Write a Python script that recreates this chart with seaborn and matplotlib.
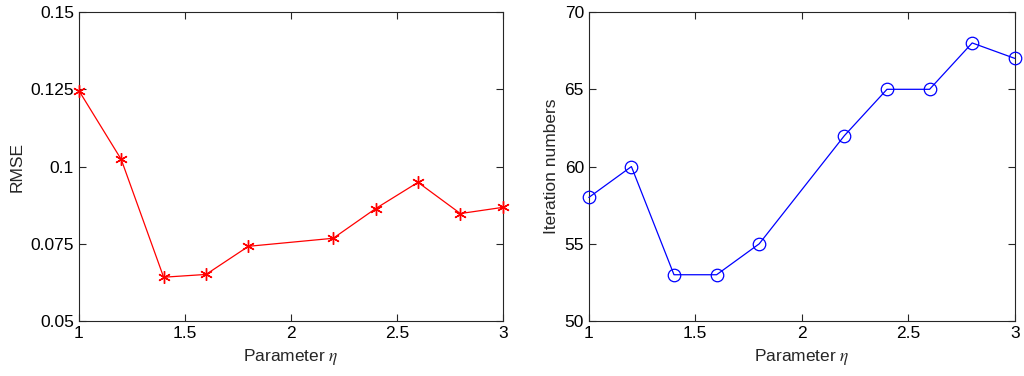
import numpy as np
import pandas as pd
import matplotlib
matplotlib.use('Agg')
import matplotlib.pyplot as plt
import seaborn as sns

# values
eta = [1.0, 1.2, 1.4, 1.6, 1.8, 2.2, 2.4, 2.6, 2.8, 3.0]
rmse = [0.1246, 0.1023, 0.0642, 0.0651, 0.0742, 0.0768, 0.0864, 0.0949, 0.0848, 0.0868]
iterations = [58, 60, 53, 53, 55, 62, 65, 65, 68, 67]

rmse_ticks = [0.05, 0.075, 0.1, 0.125, 0.15]
rmse_labels = ['0.05', '0.075', '0.1', '0.125', '0.15']
iter_ticks = [50, 55, 60, 65, 70]
x_ticks = [1, 1.5, 2, 2.5, 3]
x_labels = ['1', '1.5', '2', '2.5', '3']

df = pd.DataFrame({'eta': eta, 'rmse': rmse, 'iter': iterations})

sns.set_style('ticks')
plt.rcParams['font.family'] = ['Liberation Sans', 'DejaVu Sans']
plt.rcParams['mathtext.fontset'] = 'stix'

fig = plt.figure(figsize=(10.24, 3.76), dpi=100)
ax1 = fig.add_axes([0.077, 0.146, 0.414, 0.822])
ax2 = fig.add_axes([0.575, 0.146, 0.416, 0.822])

# RMSE plot
sns.lineplot(data=df, x='eta', y='rmse', ax=ax1, color='red', linewidth=0.9,
             marker=(6, 2, 0), markersize=9, markeredgecolor='red',
             markeredgewidth=1.0, clip_on=False, zorder=5)
ax1.set_ylim(0.05, 0.15)
ax1.set_yticks(rmse_ticks)
ax1.set_yticklabels(rmse_labels)
ax1.set_ylabel('RMSE', fontsize=12.5)

# iteration plot
sns.lineplot(data=df, x='eta', y='iter', ax=ax2, color='blue', linewidth=0.9,
             marker='o', markersize=9, markeredgecolor='blue', markerfacecolor='none',
             markeredgewidth=0.9, clip_on=False, zorder=5)
ax2.set_ylim(50, 70)
ax2.set_yticks(iter_ticks)
ax2.set_ylabel('Iteration numbers', fontsize=12.5)

for ax in (ax1, ax2):
    ax.set_xlim(1, 3)
    ax.set_xticks(x_ticks)
    ax.set_xticklabels(x_labels)
    ax.set_xlabel(r'Parameter $\it{\eta}$', fontsize=12.5)
    ax.tick_params(direction='in', top=True, right=True, labelsize=12.5, length=5,
                   width=0.8, colors='#262626', labelcolor='black')
    for s in ax.spines.values():
        s.set_visible(True)
        s.set_linewidth(0.8)
        s.set_color('#262626')
    ax.set_facecolor('white')

fig.savefig('out.png', dpi=100)
